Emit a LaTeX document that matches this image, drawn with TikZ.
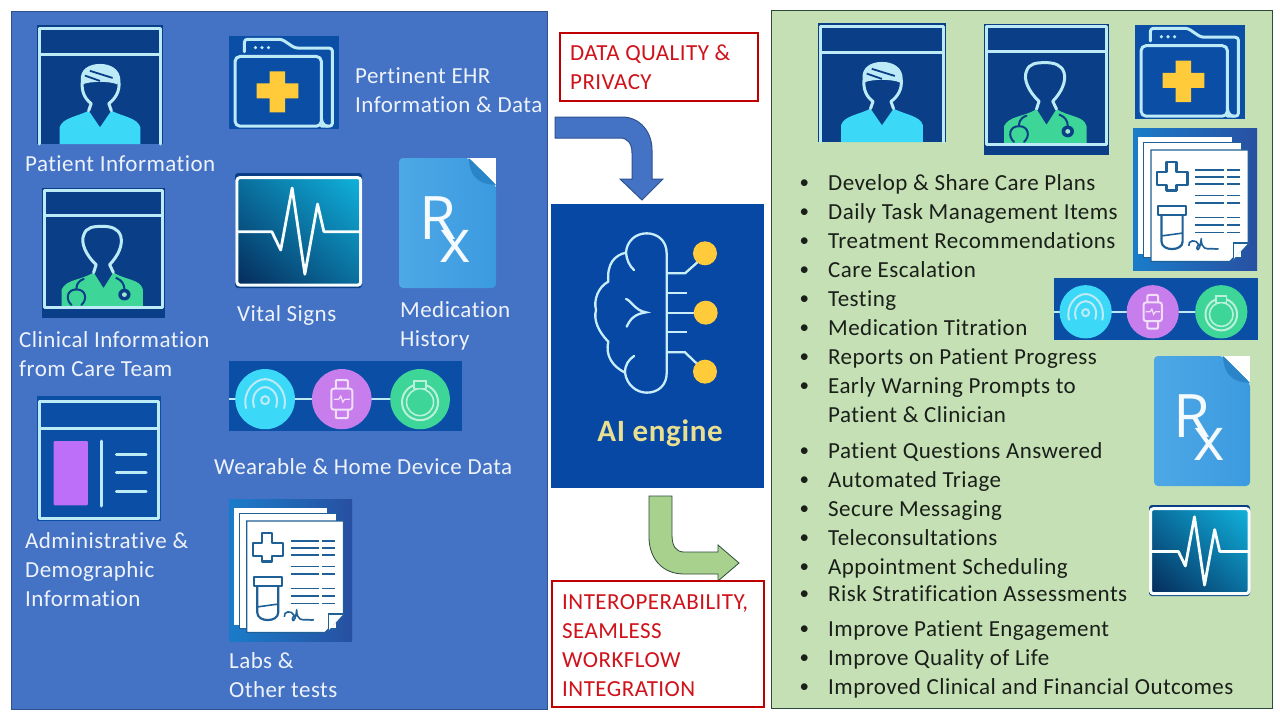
\documentclass[tikz,border=0pt]{standalone}
\usepackage{fontspec}
\usetikzlibrary{shadings}
\setmainfont{Carlito}[LetterSpace=2,Ligatures=NoCommon]
\newfontfamily\rxfont{Open Sans}
\definecolor{panelblue}{HTML}{4472C4}
\definecolor{panelline}{HTML}{2F528F}
\definecolor{panelgreen}{HTML}{C5E0B4}
\definecolor{greenline}{HTML}{2E4A3A}
\definecolor{boxred}{HTML}{C00000}
\definecolor{txtred}{HTML}{D0121B}
\definecolor{txtwhite}{HTML}{EEF3FB}
\definecolor{txtdark}{HTML}{1A1F1A}
\definecolor{icondark}{HTML}{0A3F87}
\definecolor{iconblue}{HTML}{0A4EA6}
\definecolor{iconline}{HTML}{BCEAF7}
\definecolor{iconcyan}{HTML}{3CD8F8}
\definecolor{icongreen}{HTML}{3DD598}
\definecolor{iconpurple}{HTML}{C77DEB}
\definecolor{iconyellow}{HTML}{FFCB3A}
\definecolor{labline}{HTML}{1F6096}
\definecolor{HTMLdark}{HTML}{052C5C}
\definecolor{HTMLlight}{HTML}{10B2DC}
\definecolor{HTMLmid}{HTML}{0A6F9E}
\definecolor{HTMLrxa}{HTML}{4EA8E6}
\definecolor{HTMLrxb}{HTML}{3B9ADF}
\definecolor{HTMLrxc}{HTML}{2A85C8}
\definecolor{HTMLpur}{HTML}{BE6FFA}
\definecolor{HTMLlaba}{HTML}{1A7CC9}
\definecolor{HTMLlabb}{HTML}{2850A2}
\definecolor{HTMLaifill}{HTML}{0648A4}
\definecolor{HTMLaitxt}{HTML}{E9DF90}
\definecolor{HTMLarrow}{HTML}{A9D18E}
\tikzset{
  x=1pt,y=-1pt,
  lbl/.style={anchor=base west,inner sep=0pt,font=\fontsize{23}{23}\selectfont},
  lw/.style={lbl,text=txtwhite},
  lk/.style={lbl,text=txtdark},
  lr/.style={lbl,text=txtred},
  bul/.style={anchor=base west,inner sep=0pt,text=txtdark,font=\fontsize{19}{19}\selectfont},
  redbox/.style={draw=boxred,line width=1.6pt,fill=white,outer sep=0pt,inner sep=0pt,anchor=north west},
  ic/.style={draw=iconline,line width=3pt,line join=round,line cap=round},
  patienticon/.pic={
    \fill[icondark] (0,0) rectangle (100,100);
    \draw[ic] (2,100) -- (2,3) -- (98,3) -- (98,100);
    \draw[ic] (2,25) -- (98,25);
    \fill[iconcyan] (18,100) -- (18,86) .. controls (20,78) and (32,77) .. (41,72) -- (50,86) -- (59,72) .. controls (68,77) and (80,78) .. (82,86) -- (82,100) -- cycle;
    \fill[iconline] (36,50) .. controls (34,38) and (42,33) .. (50,33) .. controls (58,33) and (66,38) .. (64,50) .. controls (58,47) and (42,47) .. (36,50) -- cycle;
    \draw[icondark,line width=1.8pt] (42,38.5) -- (60,44.5) (38,42.5) -- (50,47);
    \draw[ic] (41,72) -- (43,66) .. controls (38,62) and (35,56) .. (36,47) .. controls (35,38) and (42,34) .. (50,34) .. controls (58,34) and (65,38) .. (65,47) .. controls (66,56) and (62,62) .. (57,66) -- (59,72);
  },
  clinicianicon/.pic={
    \fill[icondark] (0,0) rectangle (100,100);
    \fill[icongreen] (16,91) -- (16,78) .. controls (20,70) and (32,71) .. (42,65) -- (50,77) -- (58,65) .. controls (68,71) and (80,70) .. (82,78) -- (82,91) -- cycle;
    \draw[ic] (2,92) -- (2,2) -- (98,2) -- (98,92) -- cycle;
    \draw[ic] (2,21) -- (98,21);
    \draw[ic] (42,65) -- (44,59) .. controls (36,52) and (31,42) .. (34,36) .. controls (36,30) and (42,29.5) .. (49,29.5) .. controls (56,29.5) and (62,31) .. (64,37) .. controls (66,44) and (62,52) .. (55,59) -- (58,65);
    \draw[icondark,line width=2pt,line cap=round] (34,70) .. controls (28,72) and (28,76) .. (28,78);
    \draw[icondark,line width=2pt,line cap=round] (24,90) .. controls (19,86) and (20,78) .. (28,78) .. controls (36,78) and (37,86) .. (32,90);
    \draw[icondark,line width=2pt] (60,69) .. controls (65,71) and (67,74) .. (67,78);
    \fill[icondark] (67,82) ellipse [x radius=5,y radius=4.5];
    \fill[icongreen!50!white] (67,82) ellipse [x radius=2,y radius=1.8];
  },
  foldericon/.pic={
    \fill[iconblue] (0,0) rectangle (100,100);
    \draw[ic,rounded corners=3pt] (14,17) -- (14,3.5) -- (48,3.5) -- (60,13) -- (94,13) -- (94,97) -- (84,97);
    \draw[ic,rounded corners=5pt] (5.5,22) rectangle (84,97);
    \draw[ic] (84,88) .. controls (84,94) and (87,97) .. (90,97);
    \fill[iconline] (24,12.5) ellipse [x radius=1.6,y radius=1.9] (30,12.5) ellipse [x radius=1.6,y radius=1.9] (36,12.5) ellipse [x radius=1.6,y radius=1.9];
    \fill[iconyellow] (25,51) -- (37,51) -- (37,38) -- (51,38) -- (51,51) -- (63,51) -- (63,67) -- (51,67) -- (51,82) -- (37,82) -- (37,67) -- (25,67) -- cycle;
  },
  vitalicon/.pic={
    \fill[rounded corners=3pt,icondark] (0,0) rectangle (100,100);
    \shade[lower left=HTMLdark,upper right=HTMLlight,upper left=HTMLmid,lower right=HTMLmid] (2,4) rectangle (98,96);
    \draw[line width=3pt,white!90!iconline,rounded corners=3pt] (1.5,4) rectangle (99,97.5);
    \draw[line width=2.8pt,white!90!iconline,line join=round] (2,51) -- (29,51) -- (36,67) -- (45,13) -- (55,88) -- (65,27) -- (70,51) -- (98,51);
  },
  rxicon/.pic={
    \fill[white] (70,0) rectangle (100,22);
    \shade[left color=HTMLrxa,right color=HTMLrxb,rounded corners=4pt] (0,0) -- (72,0) -- (100,20.6) -- (100,100) -- (0,100) -- cycle;
    \fill[HTMLrxc] (72,0) .. controls (72,12) and (80,20.6) .. (100,20.6) -- cycle;
    \node[inner sep=0pt,anchor=base west,text=white!94!HTMLrxa,font=\rxfont\fontsize{60}{60}\selectfont] (rxmark) at (20.5,63) {R\kern-17pt\raisebox{-23pt}{x}};
  },
  wearableicon/.pic={
    \fill[iconblue] (0,0) rectangle (100,100);
    \draw[iconline,line width=1.6pt] (0,54.5) -- (82,54.5);
    \fill[iconcyan] (15.5,54.5) ellipse [x radius=12.8,y radius=43];
    \fill[iconpurple] (48.4,54.5) ellipse [x radius=12.8,y radius=43];
    \fill[icongreen] (82,54.5) ellipse [x radius=12.8,y radius=43];
    \begin{scope}[shift={(15.5,54.5)},xscale=0.43,yscale=1.43]
      \draw[iconline,line width=2pt,line cap=round] (-19,9) .. controls (-23,-8) and (-10,-20) .. (0,-20) .. controls (10,-20) and (23,-8) .. (19,9);
      \draw[iconline,line width=2pt,line cap=round] (-11,8) .. controls (-15,-5) and (-6,-12) .. (0,-12) .. controls (6,-12) and (15,-5) .. (11,8);
      \draw[iconline,line width=2pt] (0,1) ellipse [x radius=4,y radius=4];
    \end{scope}
    \begin{scope}[shift={(48.4,54.5)},xscale=0.43,yscale=1.43]
      \draw[white!75!iconpurple,line width=2pt,rounded corners=2.5pt] (-10.5,-10.5) rectangle (10.5,10.5);
      \draw[white!75!iconpurple,line width=2pt,rounded corners=1pt] (-6,-10.5) -- (-6,-19) -- (6,-19) -- (6,-10.5) (-6,10.5) -- (-6,19) -- (6,19) -- (6,10.5);
      \draw[white!75!iconpurple,line width=1.2pt] (-8,0) -- (-3,0) -- (-1,-3) -- (1,3) -- (3,0) -- (8,0);
    \end{scope}
    \begin{scope}[shift={(82,54.5)},xscale=0.43,yscale=1.43]
      \draw[white!65!icongreen,line width=2pt] (0,3) ellipse [x radius=18,y radius=18];
      \draw[white!65!icongreen,line width=1.6pt] (0,3) ellipse [x radius=13.5,y radius=13.5];
      \draw[white!65!icongreen,line width=1.6pt,fill=icongreen] (-6,-18) rectangle (6,-10.5);
    \end{scope}
  },
  adminicon/.pic={
    \fill[iconblue] (0,0) rectangle (100,100);
    \draw[ic,line cap=butt] (2,4.5) rectangle (98,98);
    \draw[ic] (2,26) -- (98,26);
    \fill[HTMLpur,rounded corners=1pt] (13.5,36) rectangle (41,87.5);
    \draw[ic,line cap=round] (52,36) -- (52,88);
    \draw[ic] (64,47) -- (88,47) (64,61.5) -- (88,61.5) (64,76) -- (88,76);
  },
  labsicon/.pic={
    \shade[left color=HTMLlaba,right color=HTMLlabb] (0,0) rectangle (100,100);
    \fill[white] (4,6.5) rectangle (80,89);
    \draw[labline,line width=1.2pt,fill=white] (8.5,10) rectangle (87.5,91);
    \draw[labline,line width=1.2pt,fill=white] (14.5,15.5) -- (93,15.5) -- (93,81) -- (78,94) -- (14.5,94) -- cycle;
    \fill[white!92!iconline] (93,81) -- (81,81) -- (81,92.5) -- cycle;
    \draw[labline,line width=1.1pt] (93,81) -- (81,81) -- (81,92.5);
    \begin{scope}[labline,line width=2.2pt,line join=round]
      \draw (19.5,31) -- (27,31) -- (27,24) -- (35,24) -- (35,31) -- (44,31) -- (44,40) -- (35,40) -- (35,44) -- (27,44) -- (27,40) -- (19.5,40) -- cycle;
      \draw (20,55) rectangle (43,61.5);
      \draw (23,61.5) -- (23,80) .. controls (23,87) and (40,87) .. (40,80) -- (40,61.5);
      \draw[line width=1.6pt] (23,76) -- (40,74);
      \foreach \yy in {29.5,34.5,39.7,47.5,52.7,63,68.2,73.6}{\draw[line width=1.9pt] (50,\yy) -- (73,\yy) (76,\yy) -- (86,\yy);}
      \draw[line width=1.6pt] (45,83) .. controls (44,79) and (51,78) .. (53,82) .. controls (49,86) and (54,89) .. (55,78) .. controls (55,86) and (60,85) .. (62,85) .. controls (64,84) and (66,86) .. (69,85);
    \end{scope}
  },
}
\newcommand{\iconat}[6]{\pic (#1) [xscale={(#5-#3)/100},yscale={(#6-#4)/100}] at (#3,#4) {#2};}
\begin{document}
\begin{tikzpicture}
\useasboundingbox (0,0) rectangle (1280,720);
\fill[white] (0,0) rectangle (1280,720);
% panels
\path[fill=panelblue,draw=panelline,line width=1pt] (11,11) rectangle (547,709);
\path[fill=panelgreen,draw=greenline,line width=1pt] (771,10) rectangle (1272,708);
% left icons
\iconat{lpat}{patienticon}{37}{25}{163}{144}
\iconat{lcli}{clinicianicon}{42}{188}{165}{318}
\iconat{lfol}{foldericon}{229}{36}{339}{129}
\iconat{lvit}{vitalicon}{235}{173}{362}{288}
\iconat{lrx}{rxicon}{399}{158}{496}{288}
\iconat{lwea}{wearableicon}{229}{361}{462}{431}
\iconat{ladm}{adminicon}{37}{396}{161}{521}
\iconat{llab}{labsicon}{229}{499}{352}{641}
% left labels
\node[lw] (t1) at (25,171) {Patient Information};
\node[lw] (t2) at (19,347) {Clinical Information};
\node[lw] (t3) at (19,376) {from Care Team};
\node[lw] (t4) at (355,83) {Pertinent EHR};
\node[lw] (t5) at (355,112) {Information \& Data};
\node[lw] (t6) at (237,321) {Vital Signs};
\node[lw] (t7) at (400,317) {Medication};
\node[lw] (t8) at (400,346) {History};
\node[lw] (t9) at (214,474) {Wearable \& Home Device Data};
\node[lw] (t10) at (25,548) {Administrative \&};
\node[lw] (t11) at (25,577) {Demographic};
\node[lw] (t12) at (25,606) {Information};
\node[lw] (t13) at (229,668) {Labs \&};
\node[lw] (t14) at (229,697) {Other tests};
% red box 1
\node[redbox,minimum width=198pt,minimum height=68pt] (qbox) at (560,33) {};
\node[lr] (q1) at (570,60) {DATA QUALITY \&};
\node[lr] (q2) at (570,89) {PRIVACY};
% blue arrow
\path[fill=panelblue,draw=panelline,line width=1pt,line join=miter] (555,117) -- (622,117) .. controls (640,117) and (652,132) .. (652,150) -- (652,179) -- (663,179) -- (642,200) -- (620,179) -- (632,179) -- (632,153) .. controls (632,144) and (628,138) .. (620,138) -- (555,138) -- cycle;
% AI box
\fill[HTMLaifill] (551,204) rectangle (764,488);
\begin{scope}[shift={(540,100)},xscale=1/3,yscale=1/3]
  \draw[iconline!80!white,line width=2.3pt,line join=round] (380,820) -- (380,460) .. controls (380,420) and (350,400) .. (320,400) .. controls (285,400) and (260,425) .. (258,458) .. controls (225,465) and (200,490) .. (205,545) .. controls (175,560) and (160,600) .. (168,630) .. controls (160,660) and (175,695) .. (205,725) .. controls (195,770) and (220,800) .. (255,818) .. controls (260,855) and (290,878) .. (320,878) .. controls (355,878) and (380,855) .. (380,820);
  \draw[iconline!80!white,line width=2.3pt,line cap=round] (258,458) .. controls (260,480) and (268,497) .. (282,510);
  \draw[iconline!80!white,line width=2.3pt,line cap=round] (255,818) .. controls (255,795) and (265,780) .. (282,768);
  \draw[iconline!80!white,line width=2.3pt,line cap=round] (258,597) .. controls (272,600) and (285,632) .. (318,637) .. controls (285,642) and (272,655) .. (260,680);
  \draw[iconline!80!white,line width=2.3pt] (380,520) -- (435,520) -- (480,480);
  \draw[iconline!80!white,line width=2.3pt] (380,580) -- (442,580) (380,638) -- (480,638) (380,695) -- (442,695);
  \draw[iconline!80!white,line width=2.3pt] (380,757) -- (435,757) -- (480,800);
  \fill[iconyellow] (495,460) circle (36);
  \fill[iconyellow] (497,638) circle (36);
  \fill[iconyellow] (495,815) circle (36);
\end{scope}
\node[inner sep=0pt,text=HTMLaitxt,font=\bfseries\fontsize{31}{31}\selectfont] (ai) at (660,433) {AI engine};
% green arrow
\path[fill=HTMLarrow,draw=greenline,line width=0.8pt,line join=miter] (649,496) -- (672,496) -- (672,535) .. controls (672,546) and (676,552) .. (684,552) -- (718,552) -- (718,545) -- (739,563) -- (718,581) -- (718,574) -- (684,574) .. controls (662,574) and (649,558) .. (649,537) -- cycle;
% red box 2
\node[redbox,minimum width=212pt,minimum height=126pt] (ibox) at (552,581) {};
\node[lr] (i1) at (562,609) {INTEROPERABILITY,};
\node[lr] (i2) at (562,638) {SEAMLESS};
\node[lr] (i3) at (562,667) {WORKFLOW};
\node[lr] (i4) at (562,696) {INTEGRATION};
% right icons
\iconat{rpat}{patienticon}{818}{23}{946}{142}
\iconat{rcli}{clinicianicon}{984}{24}{1109}{155}
\iconat{rfol}{foldericon}{1135}{25}{1245}{119}
\iconat{rlab}{labsicon}{1133}{128}{1257}{270}
\iconat{rwea}{wearableicon}{1054}{278}{1258}{340}
\iconat{rrx}{rxicon}{1154}{356}{1250}{486}
\iconat{rvit}{vitalicon}{1149}{505}{1250}{596}
% right list
\foreach \yy/\txt [count=\i] in {
  190/Develop \& Share Care Plans,
  219/Daily Task Management Items,
  248/Treatment Recommendations,
  277/Care Escalation,
  306/Testing,
  335/Medication Titration,
  364/Reports on Patient Progress,
  393/Early Warning Prompts to,
  458/Patient Questions Answered,
  487/Automated Triage,
  516/Secure Messaging,
  545/Teleconsultations,
  574/Appointment Scheduling,
  601/Risk Stratification Assessments,
  636/Improve Patient Engagement,
  665/Improve Quality of Life,
  694/Improved Clinical and Financial Outcomes}{
  \node[bul] (b\i) at (799.5,\yy-1.5) {•};
  \node[lk] (r\i) at (828,\yy) {\txt};
}
\node[lk] (r8b) at (828,422) {Patient \& Clinician};
\end{tikzpicture}
\end{document}
